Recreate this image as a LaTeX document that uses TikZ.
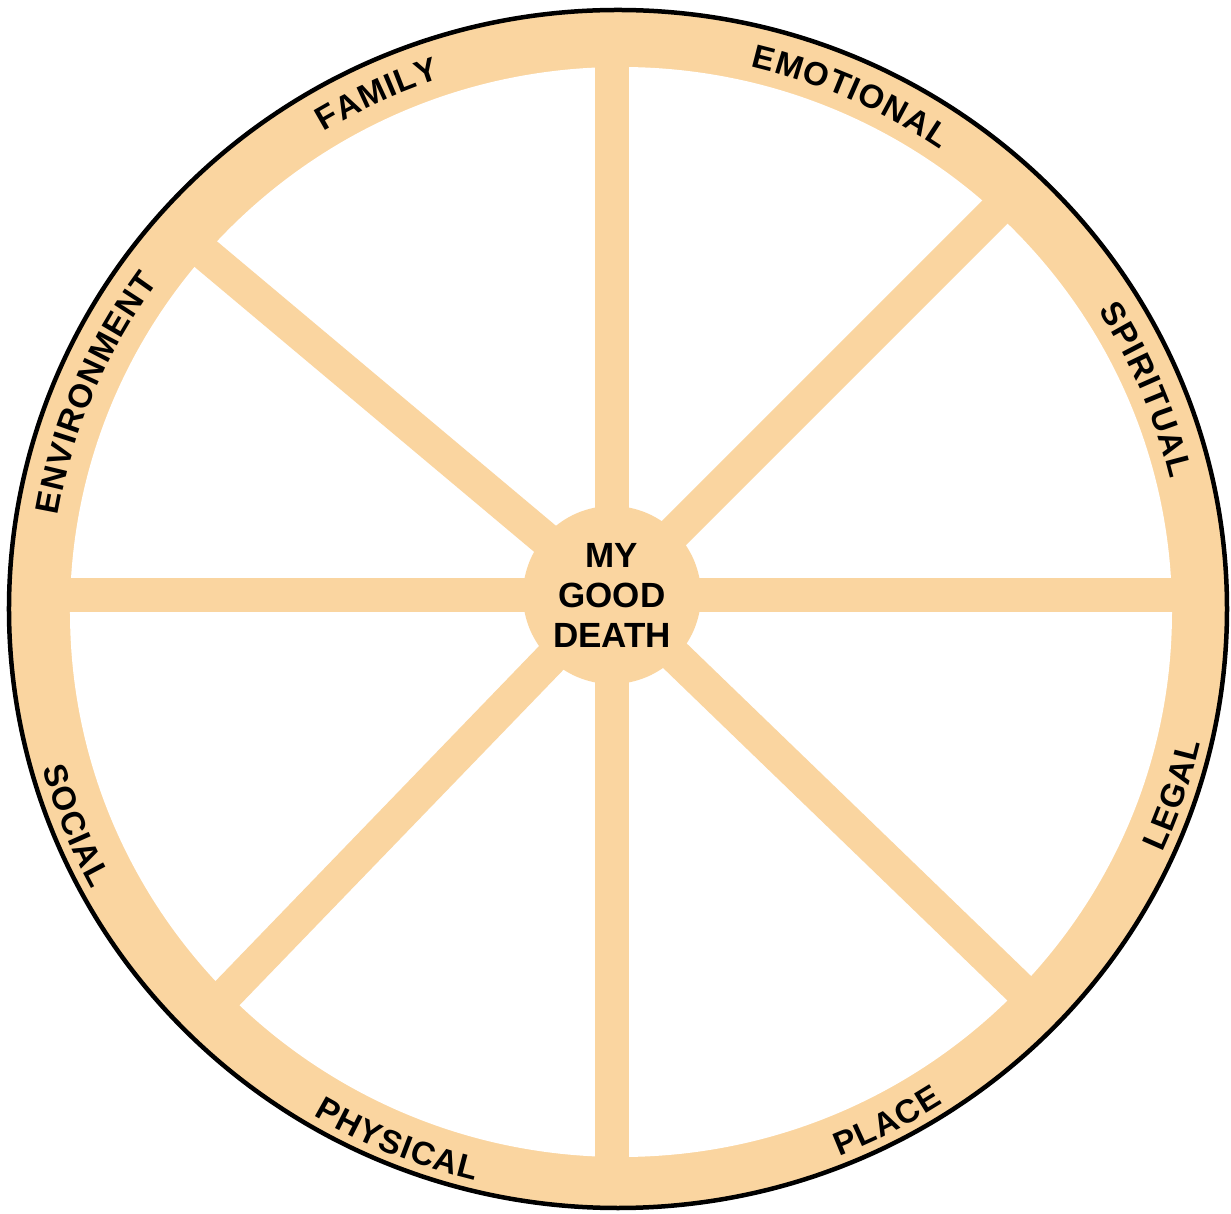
\documentclass[tikz,border=0pt]{standalone}
\usepackage{fontspec}
\setmainfont{Liberation Sans}
\usepackage{xcolor}
\usepackage{tikz}
\usetikzlibrary{decorations.text}

\definecolor{peach}{RGB}{250,213,160}
\newcommand{\rimfont}{\fontsize{33}{33}\selectfont\bfseries}

\begin{document}
\begin{tikzpicture}[
    x=1pt, y=1pt,
    rim/.style={draw=black, line width=4.5pt, fill=peach},
    spoke/.style={draw=peach, line width=34pt},
    hub/.style={circle, fill=peach, minimum size=178pt, inner sep=0pt, align=center, font=\fontsize{35}{40}\selectfont\bfseries},
    rimlabel/.style={decoration={text effects along path, text={#1}, text align=center,
        text effects/.cd, text along path, characters={font=\rimfont},
        character widths={font=\rimfont, inner xsep=0.6pt}}, decorate}
]
\useasboundingbox (-618,-605) rectangle (613,609);

% wheel rim
\draw[rim] (0,0) ellipse [x radius=609, y radius=599];
\fill[white] (3,-3) ellipse [x radius=551, y radius=545];

% spokes
\coordinate (axle) at (-6,14);
\foreach \a in {0,45,90,140,180,226,270,316}
    \draw[spoke] (axle) -- ++(\a:570);

\node[hub] (hub) at (axle) {MY\\GOOD\\DEATH};

% labels on the rim
\foreach \lab/\ang in {SPIRITUAL/22.8, EMOTIONAL/65.9, FAMILY/114.8, ENVIRONMENT/157.3}
    \path[rimlabel/.expanded=\lab] (\ang+30:568 and 558) arc[start angle=\ang+30, end angle=\ang-30, x radius=568, y radius=558];
\foreach \lab/\ang in {LEGAL/-18.7, PLACE/-62.6, PHYSICAL/-112.3, SOCIAL/-158}
    \path[rimlabel/.expanded=\lab] (\ang-30:598 and 589) arc[start angle=\ang-30, end angle=\ang+30, x radius=598, y radius=589];

\end{tikzpicture}
\end{document}
